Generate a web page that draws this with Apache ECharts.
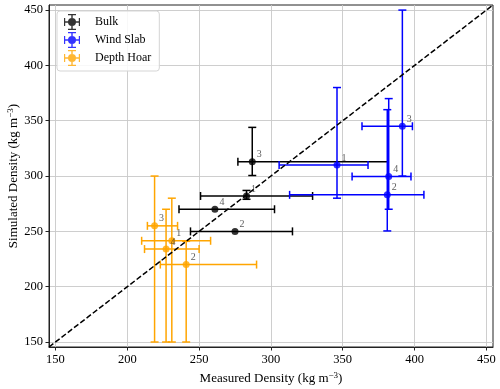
<!DOCTYPE html>
<html>
<head>
<meta charset="utf-8">
<script src="https://cdn.jsdelivr.net/npm/echarts@6/dist/echarts.min.js"></script>
<style>
  html, body { margin: 0; padding: 0; background: #fff; }
  #chart { width: 500px; height: 389px; }
</style>
</head>
<body>
<div id="chart"></div>
<script>
// measured (x) vs simulated (y) density, with error ranges
const pointLabels = ['1', '2', '3', '4'];
const tickValues = [150, 200, 250, 300, 350, 400, 450];
const axisMin = 145.5;
const axisMax = 454.6;

const bulkX = [283, 275, 287, 261];
const bulkY = [282, 250, 313, 270];
const bulkXLo = [251, 244, 277, 236];
const bulkXHi = [329, 315, 381.5, 302.5];
const bulkYLo = [279, 250, 300.5, 270];
const bulkYHi = [287, 250, 344, 270];

const windX = [346, 381, 391.5, 382];
const windY = [310, 283, 345, 299.6];
const windXLo = [305.7, 313, 363.4, 356.5];
const windXHi = [367.6, 406.5, 398.5, 397.5];
const windYLo = [280, 250.4, 300, 270];
const windYHi = [380, 360, 450, 370];

const hoarX = [231, 241, 219, 227];
const hoarY = [241.5, 220, 255, 234];
const hoarXLo = [210, 223, 214, 212];
const hoarXHi = [258, 290, 235, 250];
const hoarYLo = [150, 150, 150, 150];
const hoarYHi = [280, 241, 300, 270];

const FONT = '"Liberation Serif", "Times New Roman", serif';
const CAP = 4;

// legend icon: point with x/y error bars and caps
const errIcon = 'path://M2 9.3h16v1.4h-16z M2 6h1.2v8h-1.2z M16.8 6h1.2v8h-1.2z ' +
  'M9.3 2h1.4v16h-1.4z M6 2h8v1.2h-8z M6 16.8h8v1.2h-8z ' +
  'M10 6A4 4 0 1 1 10 14A4 4 0 1 1 10 6z';

function rows(xs, ys, xlo, xhi, ylo, yhi) {
  return xs.map((x, i) => [x, ys[i], xlo[i], xhi[i], ylo[i], yhi[i]]);
}

function errorBars(name, color, data) {
  return {
    type: 'custom',
    name: name,
    z: 2,
    data: data,
    encode: { x: 0, y: 1 },
    renderItem: function (params, api) {
      const c = api.coord([api.value(0), api.value(1)]);
      const xl = api.coord([api.value(2), api.value(1)])[0];
      const xh = api.coord([api.value(3), api.value(1)])[0];
      const yl = api.coord([api.value(0), api.value(4)])[1];
      const yh = api.coord([api.value(0), api.value(5)])[1];
      const style = { stroke: color, lineWidth: 1.5 };
      const line = (x1, y1, x2, y2) => ({
        type: 'line', shape: { x1: x1, y1: y1, x2: x2, y2: y2 }, style: style
      });
      const kids = [];
      if (xh - xl > 0.5) {
        kids.push(line(xl, c[1], xh, c[1]));
        kids.push(line(xl, c[1] - CAP, xl, c[1] + CAP));
        kids.push(line(xh, c[1] - CAP, xh, c[1] + CAP));
      }
      if (yl - yh > 0.5) {
        kids.push(line(c[0], yl, c[0], yh));
        kids.push(line(c[0] - CAP, yl, c[0] + CAP, yl));
        kids.push(line(c[0] - CAP, yh, c[0] + CAP, yh));
      }
      return { type: 'group', children: kids };
    }
  };
}

function points(name, color, xs, ys) {
  return {
    type: 'scatter',
    name: name,
    z: 3,
    symbol: 'circle',
    symbolSize: 7,
    itemStyle: { color: color },
    data: xs.map((x, i) => ({ value: [x, ys[i]], label: { formatter: pointLabels[i] } })),
    label: {
      show: true,
      position: 'inside',
      offset: [7, -7],
      color: '#333',
      fontSize: 10,
      fontFamily: FONT
    },
    emphasis: { disabled: true }
  };
}

function axis(name, isX) {
  return {
    type: 'value',
    min: axisMin,
    max: axisMax,
    name: name,
    nameLocation: 'middle',
    nameGap: isX ? 24 : 28,
    nameMoveOverlap: isX,
    nameTextStyle: {
      color: '#000', fontSize: 13, fontFamily: FONT,
      rich: {
        sup: { fontSize: 9, fontFamily: FONT, color: '#000', verticalAlign: 'top', padding: [0, 0, 6, 0] }
      }
    },
    axisLine: { show: true, lineStyle: { color: '#222', width: 1 } },
    axisTick: { show: true, length: 3.5, customValues: tickValues, lineStyle: { color: '#222' } },
    axisLabel: {
      customValues: tickValues, color: '#000', fontSize: 12.5, fontFamily: FONT, margin: 6,
      hideOverlap: false
    },
    splitLine: { show: true, lineStyle: { color: '#c8c8c8', width: 0.9 } }
  };
}

const chart = echarts.init(document.getElementById('chart'), null, { renderer: 'canvas' });
chart.setOption({
  animation: false,
  backgroundColor: '#fff',
  grid: {
    left: 49, right: 7, top: 5, bottom: 42,
    show: true, borderColor: '#222', borderWidth: 1,
    outerBoundsMode: 'none'
  },
  xAxis: axis('Measured Density (kg m{sup|\u22123})', true),
  yAxis: axis('Simulated Density (kg m{sup|\u22123})', false),
  legend: {
    orient: 'vertical',
    left: 57,
    top: 11,
    padding: [3, 8, 5, 7],
    itemWidth: 16,
    itemHeight: 16,
    itemGap: 2,
    backgroundColor: 'rgba(255,255,255,0.85)',
    borderColor: '#d5d5d5',
    borderWidth: 1,
    borderRadius: 3,
    formatter: n => '{t|' + n + '}',
    textStyle: {
      color: '#000', fontSize: 12, fontFamily: FONT,
      rich: { t: { padding: [0, 0, 0, 10], fontSize: 12, fontFamily: FONT, color: '#000' } }
    },
    data: [
      { name: 'Bulk', icon: errIcon },
      { name: 'Wind Slab', icon: errIcon },
      { name: 'Depth Hoar', icon: errIcon }
    ]
  },
  series: [
    points('Bulk', '#000000', bulkX, bulkY),
    points('Wind Slab', '#0000ff', windX, windY),
    points('Depth Hoar', '#ffa500', hoarX, hoarY),
    errorBars('Bulk', '#000000', rows(bulkX, bulkY, bulkXLo, bulkXHi, bulkYLo, bulkYHi)),
    errorBars('Wind Slab', '#0000ff', rows(windX, windY, windXLo, windXHi, windYLo, windYHi)),
    errorBars('Depth Hoar', '#ffa500', rows(hoarX, hoarY, hoarXLo, hoarXHi, hoarYLo, hoarYHi)),
    {
      type: 'line',
      name: 'one-to-one',
      z: 4,
      symbol: 'none',
      data: [[axisMin, axisMin], [axisMax, axisMax]],
      lineStyle: { color: '#000', width: 1.5, type: [5.5, 2.4] },
      silent: true
    }
  ]
});
</script>
</body>
</html>
